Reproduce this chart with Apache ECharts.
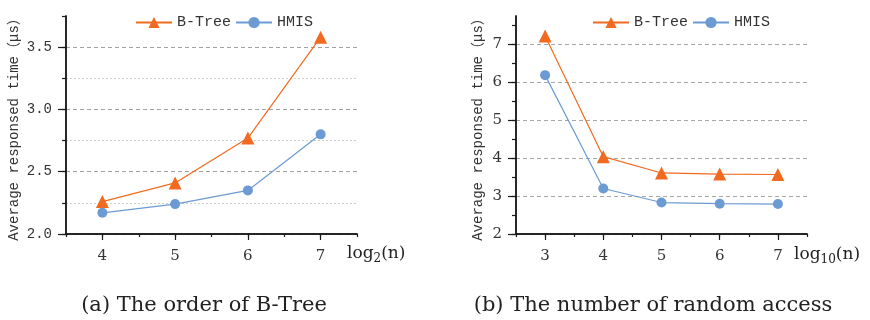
<!DOCTYPE html>
<html>
<head>
<meta charset="utf-8">
<script src="https://cdn.jsdelivr.net/npm/echarts@6/dist/echarts.min.js"></script>
<style>html,body{margin:0;padding:0;background:#fff;}#c{width:870px;height:320px;}</style>
</head>
<body>
<div id="c"></div>
<script>
// ---- data ----
const orderX = [4, 5, 6, 7];
const bTreeOrder = [2.26, 2.41, 2.77, 3.58];
const hmisOrder = [2.17, 2.24, 2.35, 2.80];

const accessX = [3, 4, 5, 6, 7];
const bTreeAccess = [7.22, 4.04, 3.61, 3.58, 3.57];
const hmisAccess = [6.19, 3.20, 2.83, 2.80, 2.79];

const leftYLabels = [2.0, 2.5, 3.0, 3.5];
const leftYMinor = [2.0, 2.25, 2.5, 2.75, 3.0, 3.25, 3.5, 3.75];
const rightYLabels = [2, 3, 4, 5, 6, 7];
const rightYMinor = [2, 2.5, 3, 3.5, 4, 4.5, 5, 5.5, 6, 6.5, 7, 7.5];
const leftXLabels = [4, 5, 6, 7];
const rightXLabels = [3, 4, 5, 6, 7];

const seriesNames = ['B-Tree', 'HMIS'];
const ORANGE = '#f26a1f';
const BLUE = '#6b9bd2';
const AXIS = '#1a1a1a';
const MONO = "'Liberation Mono', 'Noto Sans CJK SC', monospace";
const SERIF = "'DejaVu Serif', serif";

function zip(xs, ys) { return xs.map((x, i) => [x, ys[i]]); }

const chart = echarts.init(document.getElementById('c'), null, { renderer: 'canvas' });

function minorX(grid, min, max) {
  return {
    type: 'value', gridIndex: grid, position: 'bottom', min: min, max: max, interval: 0.5,
    axisLine: { show: true, onZero: false, lineStyle: { color: AXIS, width: 1.5 } },
    axisTick: { show: true, length: 3, lineStyle: { color: AXIS, width: 1.2 } },
    axisLabel: { show: false }, splitLine: { show: false }
  };
}
function majorX(grid, min, max, labels) {
  return {
    type: 'value', gridIndex: grid, position: 'bottom', min: min, max: max, interval: 0.5,
    axisLine: { show: true, onZero: false, lineStyle: { color: AXIS, width: 1.5 } },
    axisTick: { show: true, length: 6, customValues: labels, lineStyle: { color: AXIS, width: 1.2 } },
    axisLabel: { show: true, customValues: labels, margin: 15, color: '#333', fontFamily: SERIF, fontSize: 15 },
    splitLine: { show: false }
  };
}

const option = {
  animation: false,
  backgroundColor: '#fff',
  grid: [
    { left: 66, top: 16, width: 291, height: 218, containLabel: false, outerBoundsMode: 'none' },
    { left: 516, top: 16, width: 291, height: 218, containLabel: false, outerBoundsMode: 'none' }
  ],
  legend: [
    { data: seriesNames, left: 130, top: 10, itemWidth: 36, itemHeight: 14, itemGap: 4,
      textStyle: { fontFamily: MONO, fontSize: 15, color: '#333' } },
    { data: seriesNames, left: 587, top: 10, itemWidth: 36, itemHeight: 14, itemGap: 4,
      textStyle: { fontFamily: MONO, fontSize: 15, color: '#333' } }
  ],
  xAxis: [
    minorX(0, 3.5, 7.5),
    majorX(0, 3.5, 7.5, leftXLabels),
    minorX(1, 2.5, 7.5),
    majorX(1, 2.5, 7.5, rightXLabels)
  ],
  yAxis: [
    { type: 'value', gridIndex: 0, position: 'left', min: 2, max: 3.75, interval: 0.25,
      axisLine: { show: true, onZero: false, lineStyle: { color: AXIS, width: 1.5 } },
      axisTick: { show: true, length: 4, customValues: leftYMinor, lineStyle: { color: AXIS, width: 1.2 } },
      axisLabel: { show: false },
      splitLine: { show: true, showMaxLine: false,
        lineStyle: { type: [2, 2], width: 1,
          color: ['rgba(0,0,0,0)', '#cfcfcf', 'rgba(0,0,0,0)', '#cfcfcf', 'rgba(0,0,0,0)', '#cfcfcf', 'rgba(0,0,0,0)', 'rgba(0,0,0,0)'] } } },
    { type: 'value', gridIndex: 0, position: 'left', min: 2, max: 3.75, interval: 0.5,
      axisLine: { show: true, onZero: false, lineStyle: { color: AXIS, width: 1.5 } },
      axisTick: { show: true, length: 8, customValues: leftYLabels, lineStyle: { color: AXIS, width: 1.2 } },
      axisLabel: { show: true, customValues: leftYLabels, margin: 14, color: '#333', fontFamily: MONO, fontSize: 14,
        formatter: v => Number(v).toFixed(1) },
      splitLine: { show: true, lineStyle: { type: [4, 3], width: 1, color: '#a0a0a0' } } },
    { type: 'value', gridIndex: 1, position: 'left', min: 2, max: 7.75, interval: 0.5,
      axisLine: { show: true, onZero: false, lineStyle: { color: AXIS, width: 1.5 } },
      axisTick: { show: true, length: 4, customValues: rightYMinor, lineStyle: { color: AXIS, width: 1.2 } },
      axisLabel: { show: false }, splitLine: { show: false } },
    { type: 'value', gridIndex: 1, position: 'left', min: 2, max: 7.75, interval: 1,
      axisLine: { show: true, onZero: false, lineStyle: { color: AXIS, width: 1.5 } },
      axisTick: { show: true, length: 8, customValues: rightYLabels, lineStyle: { color: AXIS, width: 1.2 } },
      axisLabel: { show: true, customValues: rightYLabels, margin: 14, color: '#333', fontFamily: SERIF, fontSize: 15 },
      splitLine: { show: true, lineStyle: { type: [4, 3], width: 1, color: '#a8a8a8' } } }
  ],
  series: [
    { name: 'B-Tree', type: 'line', xAxisIndex: 0, yAxisIndex: 0, data: zip(orderX, bTreeOrder),
      symbol: 'triangle', symbolSize: 13, color: ORANGE, lineStyle: { width: 1.2, color: ORANGE },
      itemStyle: { color: ORANGE, borderWidth: 0 }, z: 3 },
    { name: 'HMIS', type: 'line', xAxisIndex: 0, yAxisIndex: 0, data: zip(orderX, hmisOrder),
      symbol: 'circle', symbolSize: 10, color: BLUE, lineStyle: { width: 1.2, color: BLUE },
      itemStyle: { color: BLUE, borderWidth: 0 }, z: 3 },
    { name: 'B-Tree', type: 'line', xAxisIndex: 2, yAxisIndex: 2, data: zip(accessX, bTreeAccess),
      symbol: 'triangle', symbolSize: 13, color: ORANGE, lineStyle: { width: 1.2, color: ORANGE },
      itemStyle: { color: ORANGE, borderWidth: 0 }, z: 3 },
    { name: 'HMIS', type: 'line', xAxisIndex: 2, yAxisIndex: 2, data: zip(accessX, hmisAccess),
      symbol: 'circle', symbolSize: 10, color: BLUE, lineStyle: { width: 1.2, color: BLUE },
      itemStyle: { color: BLUE, borderWidth: 0 }, z: 3 }
  ],
  graphic: [
    { type: 'text', x: 14.5, y: 126, rotation: Math.PI / 2,
      style: { text: 'Average responsed time（μs）', fontFamily: MONO, fontSize: 14, fill: '#333',
        align: 'center', verticalAlign: 'middle' } },
    { type: 'text', x: 478, y: 126, rotation: Math.PI / 2,
      style: { text: 'Average responsed time（μs）', fontFamily: MONO, fontSize: 14, fill: '#333',
        align: 'center', verticalAlign: 'middle' } },
    { type: 'text', x: 347, y: 254,
      style: { text: '{a|log}{b|2}{a|(n)}', align: 'left', verticalAlign: 'middle', fill: '#222',
        rich: { a: { fontFamily: SERIF, fontSize: 17, lineHeight: 22, verticalAlign: 'middle', fill: '#222' },
                b: { fontFamily: SERIF, fontSize: 12, lineHeight: 12, verticalAlign: 'bottom', fill: '#222' } } } },
    { type: 'text', x: 794, y: 255,
      style: { text: '{a|log}{b|10}{a|(n)}', align: 'left', verticalAlign: 'middle', fill: '#222',
        rich: { a: { fontFamily: SERIF, fontSize: 17, lineHeight: 22, verticalAlign: 'middle', fill: '#222' },
                b: { fontFamily: SERIF, fontSize: 12, lineHeight: 12, verticalAlign: 'bottom', fill: '#222' } } } },
    { type: 'text', x: 204, y: 306,
      style: { text: '(a) The order of B-Tree', fontFamily: SERIF, fontSize: 21, fill: '#222',
        align: 'center', verticalAlign: 'middle' } },
    { type: 'text', x: 653, y: 306,
      style: { text: '(b) The number of random access', fontFamily: SERIF, fontSize: 21, fill: '#222',
        align: 'center', verticalAlign: 'middle' } }
  ]
};
chart.setOption(option);
</script>
</body>
</html>
